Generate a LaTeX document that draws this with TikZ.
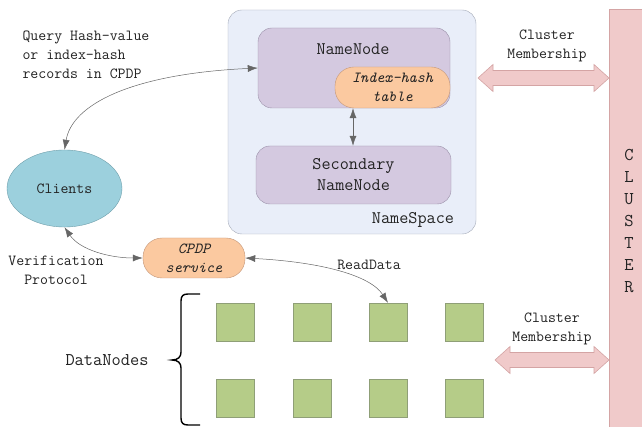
\documentclass[tikz,border=0pt]{standalone}
\usepackage{fontspec}
\setmainfont{Latin Modern Mono}
\usetikzlibrary{arrows.meta,shapes.geometric}
\definecolor{nsfill}{HTML}{E9EEF9}
\definecolor{nsdraw}{HTML}{A4AAB8}
\definecolor{nnfill}{HTML}{D4C9E0}
\definecolor{nndraw}{HTML}{9A90A8}
\definecolor{orfill}{HTML}{FBC9A0}
\definecolor{ordraw}{HTML}{C4977A}
\definecolor{clfill}{HTML}{9CD0DD}
\definecolor{cldraw}{HTML}{6E9EAA}
\definecolor{sqfill}{HTML}{B5CC88}
\definecolor{sqdraw}{HTML}{8F9F77}
\definecolor{pkfill}{HTML}{F0CACA}
\definecolor{pkdraw}{HTML}{D4A4A4}
\definecolor{txt}{HTML}{222222}
\tikzset{
  txtf/.style={text=txt,font=\fontsize{15.4}{19}\selectfont},
  bigf/.style={text=txt,font=\fontsize{17.7}{21}\selectfont},
  nsbox/.style={draw=nsdraw,fill=nsfill,rounded corners=14pt,minimum width=248pt,minimum height=224pt},
  nnbox/.style={draw=nndraw,fill=nnfill,rounded corners=14pt},
  orbox/.style={draw=ordraw,fill=orfill,rounded corners=19pt,align=center,text=txt,font=\fontsize{15.4}{19}\selectfont\itshape},
  sqbox/.style={draw=sqdraw,fill=sqfill,minimum width=38pt,minimum height=38pt,inner sep=0pt},
  conn/.style={draw=gray!80!black,line width=0.5pt,{Latex[length=10pt,width=7pt]}-{Latex[length=10pt,width=7pt]}},
  pkarrow/.style={draw=pkdraw,fill=pkfill,line width=0.6pt},
}
\begin{document}
\begin{tikzpicture}[x=1pt,y=-1pt]
\useasboundingbox (0,0) rectangle (642,427);
\fill[white] (0,0) rectangle (642,427);
% namespace
\node[nsbox] (ns) at (352,122) {};
\node[nnbox,minimum width=192pt,minimum height=80pt] (nn) at (354,68) {};
\node[bigf] (nnl) at (353,49) {NameNode};
\node[orbox,minimum width=115pt,minimum height=41pt,inner sep=0pt] (iht) at (392.5,87.5) {Index-hash\\table};
\node[nnbox,minimum width=195pt,minimum height=58pt,align=center,bigf] (snn) at (353.5,175) {Secondary\\NameNode};
\node[bigf] (nsl) at (413,220) {NameSpace};
\draw[conn] (iht.south -| 353,0) -- (snn.north -| 353,0);
% cluster bar
\draw[pkarrow] (609,9) rectangle (650,440);
\node[align=center,font=\fontsize{18}{22}\selectfont,text=txt] (clu) at (629,221) {C\\L\\U\\S\\T\\E\\R};
% cluster membership arrows
\draw[pkarrow] (478,78) -- (493,64.5) -- (493,70.5) -- (594,70.5) -- (594,64.5) -- (609,78) -- (594,91.5) -- (594,85.5) -- (493,85.5) -- (493,91.5) -- cycle;
\node[txtf,align=center] (cm1) at (547,46) {Cluster\\Membership};
\draw[pkarrow] (495,360) -- (510,346.5) -- (510,352.5) -- (594,352.5) -- (594,346.5) -- (609,360) -- (594,373.5) -- (594,367.5) -- (510,367.5) -- (510,373.5) -- cycle;
\node[txtf,align=center] (cm2) at (552,329) {Cluster\\Membership};
% clients
\node[ellipse,draw=cldraw,fill=clfill,minimum width=115pt,minimum height=77pt,txtf] (cl) at (64.5,188.5) {Clients};
\node[orbox,minimum width=102pt,minimum height=40pt,inner sep=0pt] (cpdp) at (194,258) {CPDP\\service};
% labels
\node[txtf,align=left,anchor=north west] (q) at (19,27) {Query Hash-value\\or index-hash\\records in CPDP};
\node[txtf,align=center] (vp) at (56,270) {Verification\\Protocol};
\node[txtf] (rd) at (369,265) {ReadData};
\node[text=txt,font=\fontsize{17.9}{21}\selectfont] (dn) at (107,360) {DataNodes};
% squares
\foreach \i/\x in {1/235,2/312,3/388,4/464}{
  \node[sqbox] (a\i) at (\x,322) {};
  \node[sqbox] (b\i) at (\x,398) {};
}
% brace
\draw[line width=1.4pt,black] (200,294) -- (188,294) .. controls (183,294) and (181,296) .. (181,301) -- (181,352) .. controls (181,357) and (178,360) .. (172,360) .. controls (178,360) and (181,363) .. (181,368) -- (181,418) .. controls (181,423) and (183,425) .. (188,425) -- (200,425);
% connectors
\draw[conn] (cl.north) .. controls (72,105) and (130,74) .. (nn.west);
\draw[conn] (cl.south) .. controls (80,250) and (110,258) .. (cpdp.west);
\draw[conn] (cpdp.east) .. controls (320,262) and (370,275) .. (a3.north);
\end{tikzpicture}
\end{document}
